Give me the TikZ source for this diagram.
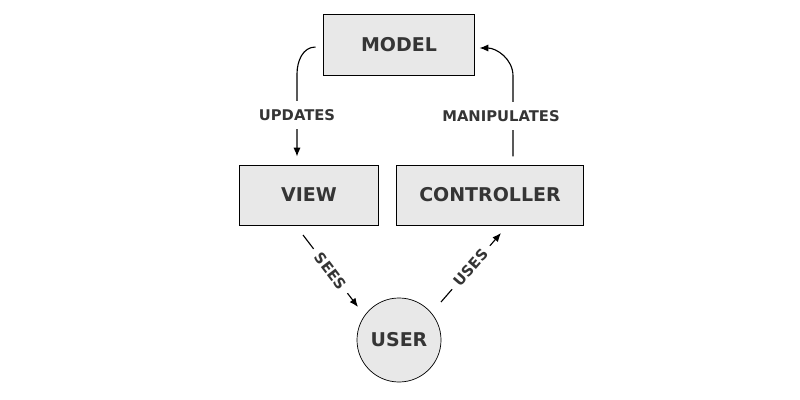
\documentclass[tikz,border=0pt]{standalone}
\usepackage{fontspec}
\setmainfont{DejaVu Sans}
\usetikzlibrary{arrows.meta}
\definecolor{boxgray}{HTML}{E8E8E8}
\definecolor{textgray}{HTML}{353535}
\tikzset{
  box/.style={draw=black, line width=0.7pt, fill=boxgray, minimum height=1.5cm, font=\fontsize{13.5}{15}\selectfont\bfseries, text=textgray},
  user/.style={draw=black, line width=0.5pt, fill=boxgray, circle, minimum size=2.1cm, inner sep=0pt, font=\fontsize{13.5}{15}\selectfont\bfseries, text=textgray},
  lbl/.style={fill=white, font=\fontsize{10.5}{12}\selectfont\bfseries, text=textgray, inner xsep=1pt, inner ysep=6pt},
  arr/.style={draw=black, line width=0.8pt, -{Latex[length=2.2mm,width=1.8mm]}}
}
\begin{document}
\begin{tikzpicture}[x=0.025cm,y=-0.025cm]
\useasboundingbox (0,0) rectangle (800,400);
\node[box, minimum width=3.75cm] (model) at (399,45) {MODEL};
\node[box, minimum width=3.45cm] (view) at (309,195) {VIEW};
\node[box, minimum width=4.65cm] (controller) at (490,195) {CONTROLLER};
\node[user] (user) at (399,340) {USER};
\coordinate (sees-a) at (303,235);
\coordinate (sees-b) at (358,307);
\coordinate (uses-a) at (441,302);
\coordinate (uses-b) at (501,233);
\draw[arr] ([xshift=-0.2cm,yshift=-0.05cm]model.west) to[out=180,in=90] (297,74) -- node[lbl]{UPDATES} ([xshift=-0.3cm,yshift=0.2cm]view.north);
\draw[arr] ([xshift=0.575cm,yshift=0.2cm]controller.north) -- node[lbl, xshift=-0.3cm]{MANIPULATES} (513,76) to[out=90,in=0] ([xshift=0.125cm,yshift=-0.075cm]model.east);
\draw[arr] (sees-a) -- node[lbl, sloped, inner ysep=1pt, inner xsep=5pt]{SEES} (sees-b);
\draw[arr] (uses-a) -- node[lbl, sloped, inner ysep=1pt, inner xsep=5pt]{USES} (uses-b);
\end{tikzpicture}
\end{document}
